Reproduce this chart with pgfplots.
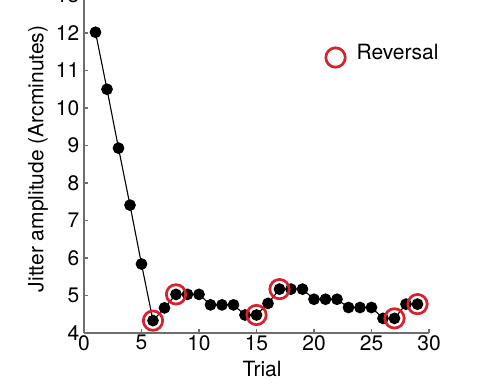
\documentclass[border=0pt]{standalone}
\usepackage{fontspec}
\setmainfont{TeX Gyre Heros}
\usepackage{pgfplots}
\pgfplotsset{compat=1.18}
\definecolor{revred}{RGB}{218,32,44}
\definecolor{axgray}{RGB}{110,110,110}
\begin{document}
\fontsize{21}{25}\selectfont
\begin{tikzpicture}
\begin{axis}[
  scale only axis, width=345pt, height=337.5pt,
  at={(0,0)}, anchor=south west,
  xmin=0, xmax=30, ymin=4, ymax=13,
  axis x line*=bottom, axis y line*=left,
  axis line style={axgray, line width=1.4pt},
  xtick={0,5,...,30}, ytick={4,5,...,13},
  tick align=inside, major tick length=4pt,
  tick style={axgray, line width=1.2pt},
  /pgf/number format/assume math mode=true,
  ticklabel style={font=\fontsize{21}{25}\selectfont, text=black},
  xticklabel style={inner sep=2pt},
  yticklabel style={inner sep=4.5pt},
  xlabel={Trial}, ylabel={Jitter amplitude (Arcminutes)},
  xlabel style={at={(axis description cs:0.516,0)}, anchor=base, yshift=-44pt, font=\fontsize{21}{25}\selectfont},
  ylabel style={at={(axis description cs:-0.133,0.516)}, anchor=center, font=\fontsize{21}{25}\selectfont},
  clip=false,
  legend style={draw=none, fill=none, at={(axis cs:20.9,11.42)}, anchor=west, font=\fontsize{21}{25}\selectfont, inner sep=0pt},
  legend image code/.code={\path[draw=none] (-11pt,0pt) -- (19pt,0pt); \draw[#1] plot coordinates {(0pt,-4pt)};},
]
\addplot[black, line width=1.1pt, mark=*, mark size=5.3pt, mark options={solid, fill=black}, forget plot] coordinates {
(1,12.02) (2,10.50) (3,8.93) (4,7.41) (5,5.84) (6,4.33) (7,4.67) (8,5.03) (9,5.03) (10,5.03)
(11,4.75) (12,4.75) (13,4.75) (14,4.48) (15,4.48) (16,4.79) (17,5.17) (18,5.17) (19,5.17)
(20,4.90) (21,4.90) (22,4.90) (23,4.68) (24,4.68) (25,4.68) (26,4.39) (27,4.39) (28,4.77) (29,4.77)
};
\addplot[only marks, mark=o, mark size=9.7pt, revred, line width=2.7pt] coordinates {
(6,4.33) (8,5.03) (15,4.48) (17,5.17) (27,4.39) (29,4.77)
};
\addlegendentry{Reversal}
\end{axis}
\pgfresetboundingbox
\path[use as bounding box] (-84pt,-55pt) rectangle (406pt,333pt);
\end{tikzpicture}
\end{document}
